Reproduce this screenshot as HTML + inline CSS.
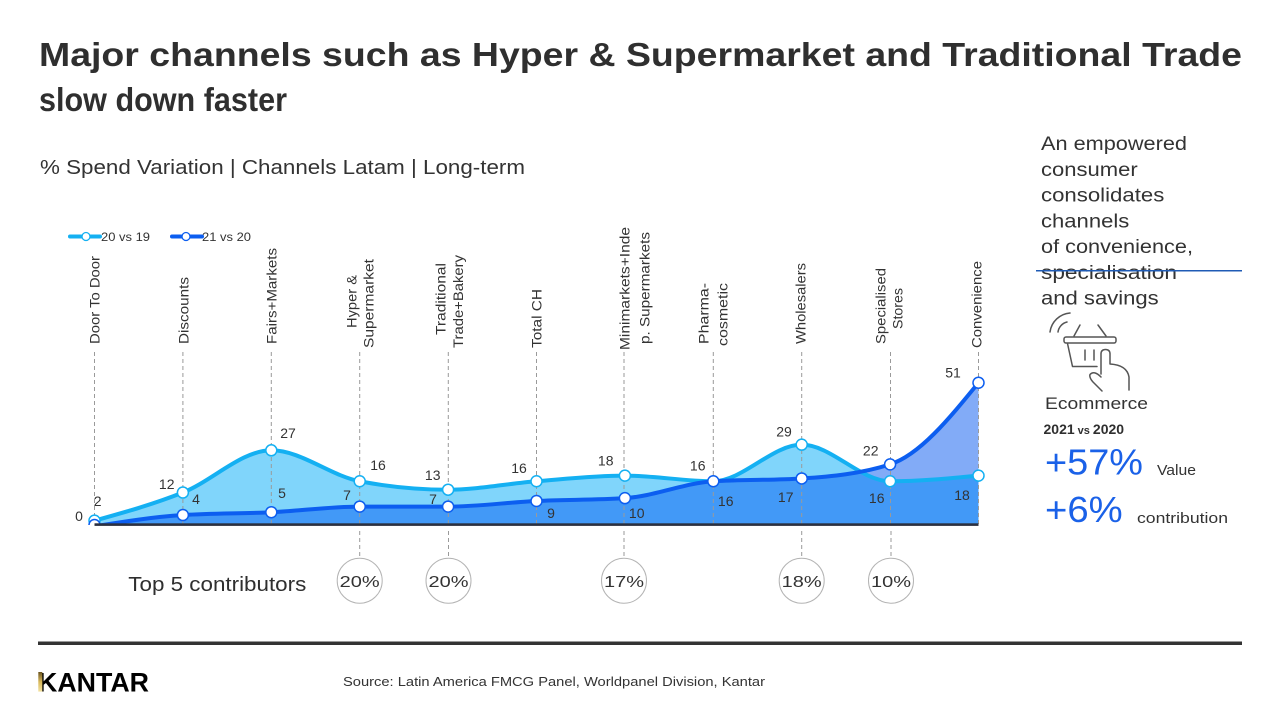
<!DOCTYPE html>
<html>
<head>
<meta charset="utf-8">
<style>
html,body{margin:0;padding:0;background:#fff;}
svg{display:block;}
text{font-family:"Liberation Sans",sans-serif;}
</style>
</head>
<body>
<svg width="1280" height="720" viewBox="0 0 1280 720" xmlns="http://www.w3.org/2000/svg">
<defs>
  <clipPath id="chartClip"><rect x="0" y="0" width="1280" height="525"/></clipPath>
  <clipPath id="areaAclip">
    <path d="M94.5,520.67 C123.97,512.46 153.43,504.25 182.9,492.52 C212.37,480.79 241.83,450.3 271.3,450.3 C300.77,450.3 330.23,475.63 359.7,481.26 C389.17,486.89 418.63,489.7 448.1,489.7 C477.57,489.7 507.03,483.6 536.5,481.26 C565.97,478.91 595.43,475.63 624.9,475.63 C654.37,475.63 683.83,481.26 713.3,481.26 C742.77,481.26 772.23,444.67 801.7,444.67 C831.17,444.67 860.63,481.26 890.1,481.26 C919.57,481.26 949.03,478.45 978.5,475.63 L978.5,530 L94.5,530 Z"/>
  </clipPath>
  <linearGradient id="gold" x1="0" y1="0" x2="0" y2="1">
    <stop offset="0" stop-color="#6b5420"/>
    <stop offset="0.5" stop-color="#d8b85a"/>
    <stop offset="1" stop-color="#f3e2a0"/>
  </linearGradient>
</defs>

<!-- Title -->
<text x="39" y="66" font-size="33" font-weight="bold" fill="#2f2f2f" textLength="1203" lengthAdjust="spacingAndGlyphs">Major channels such as Hyper &amp; Supermarket and Traditional Trade</text>
<text x="39" y="111" font-size="33" font-weight="bold" fill="#2f2f2f" textLength="248" lengthAdjust="spacingAndGlyphs">slow down faster</text>
<text x="40" y="174" font-size="20" fill="#333" textLength="485" lengthAdjust="spacingAndGlyphs">% Spend Variation | Channels Latam | Long-term</text>

<!-- Legend -->
<line x1="70" y1="236.5" x2="100" y2="236.5" stroke="#14b0f2" stroke-width="4" stroke-linecap="round"/>
<circle cx="86" cy="236.5" r="4" fill="#fff" stroke="#14b0f2" stroke-width="1.3"/>
<text x="101" y="241" font-size="12" fill="#333" textLength="49" lengthAdjust="spacingAndGlyphs">20 vs 19</text>
<line x1="172" y1="236.5" x2="202" y2="236.5" stroke="#0c5ef0" stroke-width="4" stroke-linecap="round"/>
<circle cx="186" cy="236.5" r="4" fill="#fff" stroke="#0c5ef0" stroke-width="1.3"/>
<text x="202" y="241" font-size="12" fill="#333" textLength="49" lengthAdjust="spacingAndGlyphs">21 vs 20</text>

<!-- Category labels (rotated) -->
<g font-size="13.5" fill="#333" text-anchor="middle">
  <text transform="translate(99.7,300) rotate(-90)" textLength="88" lengthAdjust="spacingAndGlyphs">Door To Door</text>
  <text transform="translate(188.7,310.5) rotate(-90)" textLength="67" lengthAdjust="spacingAndGlyphs">Discounts</text>
  <text transform="translate(276.7,296) rotate(-90)" textLength="96" lengthAdjust="spacingAndGlyphs">Fairs+Markets</text>
  <text transform="translate(356.7,301.5) rotate(-90)" textLength="53" lengthAdjust="spacingAndGlyphs">Hyper &amp;</text>
  <text transform="translate(373.7,303.5) rotate(-90)" textLength="89" lengthAdjust="spacingAndGlyphs">Supermarket</text>
  <text transform="translate(445.4,299) rotate(-90)" textLength="72" lengthAdjust="spacingAndGlyphs">Traditional</text>
  <text transform="translate(463,301.5) rotate(-90)" textLength="93" lengthAdjust="spacingAndGlyphs">Trade+Bakery</text>
  <text transform="translate(541.7,318.5) rotate(-90)" textLength="59" lengthAdjust="spacingAndGlyphs">Total CH</text>
  <text transform="translate(629.7,288.5) rotate(-90)" textLength="123" lengthAdjust="spacingAndGlyphs">Minimarkets+Inde</text>
  <text transform="translate(649.7,288) rotate(-90)" textLength="112" lengthAdjust="spacingAndGlyphs">p. Supermarkets</text>
  <text transform="translate(708.7,313.5) rotate(-90)" textLength="61" lengthAdjust="spacingAndGlyphs">Pharma-</text>
  <text transform="translate(727.7,314.5) rotate(-90)" textLength="63" lengthAdjust="spacingAndGlyphs">cosmetic</text>
  <text transform="translate(805.7,303.5) rotate(-90)" textLength="81" lengthAdjust="spacingAndGlyphs">Wholesalers</text>
  <text transform="translate(885.7,306) rotate(-90)" textLength="76" lengthAdjust="spacingAndGlyphs">Specialised</text>
  <text transform="translate(902.7,308.5) rotate(-90)" textLength="41" lengthAdjust="spacingAndGlyphs">Stores</text>
  <text transform="translate(981.7,304.5) rotate(-90)" textLength="87" lengthAdjust="spacingAndGlyphs">Convenience</text>
</g>

<!-- Chart areas -->
<g clip-path="url(#chartClip)">
  <!-- area A (20 vs 19) -->
  <path d="M94.5,520.67 C123.97,512.46 153.43,504.25 182.9,492.52 C212.37,480.79 241.83,450.3 271.3,450.3 C300.77,450.3 330.23,475.63 359.7,481.26 C389.17,486.89 418.63,489.7 448.1,489.7 C477.57,489.7 507.03,483.6 536.5,481.26 C565.97,478.91 595.43,475.63 624.9,475.63 C654.37,475.63 683.83,481.26 713.3,481.26 C742.77,481.26 772.23,444.67 801.7,444.67 C831.17,444.67 860.63,481.26 890.1,481.26 C919.57,481.26 949.03,478.45 978.5,475.63 L978.5,530 L94.5,530 Z" fill="#80d5fb"/>
  <!-- area B (21 vs 20) -->
  <path id="areaB" d="M94.5,526.3 C123.97,521.61 153.43,516.92 182.9,515.04 C212.37,513.16 241.83,513.63 271.3,512.23 C300.77,510.82 330.23,506.6 359.7,506.6 C389.17,506.6 418.63,506.6 448.1,506.6 C477.57,506.6 507.03,502.37 536.5,500.97 C565.97,499.56 595.43,500.03 624.9,498.15 C654.37,496.27 683.83,483.14 713.3,481.26 C742.77,479.38 772.23,480.32 801.7,478.45 C831.17,476.57 860.63,473.75 890.1,464.37 C919.57,454.99 949.03,418.86 978.5,382.73 L978.5,530 L94.5,530 Z" fill="#82abf7"/>
  <g clip-path="url(#areaAclip)">
    <path d="M94.5,526.3 C123.97,521.61 153.43,516.92 182.9,515.04 C212.37,513.16 241.83,513.63 271.3,512.23 C300.77,510.82 330.23,506.6 359.7,506.6 C389.17,506.6 418.63,506.6 448.1,506.6 C477.57,506.6 507.03,502.37 536.5,500.97 C565.97,499.56 595.43,500.03 624.9,498.15 C654.37,496.27 683.83,483.14 713.3,481.26 C742.77,479.38 772.23,480.32 801.7,478.45 C831.17,476.57 860.63,473.75 890.1,464.37 C919.57,454.99 949.03,418.86 978.5,382.73 L978.5,530 L94.5,530 Z" fill="#4299f7"/>
  </g>

  <!-- dashed category lines -->
  <g stroke="#9a9a9a" stroke-width="1" stroke-dasharray="4,3">
    <line x1="94.5" y1="352" x2="94.5" y2="524"/>
    <line x1="182.9" y1="352" x2="182.9" y2="524"/>
    <line x1="271.3" y1="352" x2="271.3" y2="524"/>
    <line x1="359.7" y1="352" x2="359.7" y2="524"/>
    <line x1="448.3" y1="352" x2="448.3" y2="524"/>
    <line x1="536.5" y1="352" x2="536.5" y2="524"/>
    <line x1="624" y1="352" x2="624" y2="524"/>
    <line x1="713.3" y1="352" x2="713.3" y2="524"/>
    <line x1="801.7" y1="352" x2="801.7" y2="524"/>
    <line x1="890.5" y1="352" x2="890.5" y2="524"/>
    <line x1="978.5" y1="352" x2="978.5" y2="524"/>
  </g>

  <!-- line A -->
  <path d="M94.5,520.67 C123.97,512.46 153.43,504.25 182.9,492.52 C212.37,480.79 241.83,450.3 271.3,450.3 C300.77,450.3 330.23,475.63 359.7,481.26 C389.17,486.89 418.63,489.7 448.1,489.7 C477.57,489.7 507.03,483.6 536.5,481.26 C565.97,478.91 595.43,475.63 624.9,475.63 C654.37,475.63 683.83,481.26 713.3,481.26 C742.77,481.26 772.23,444.67 801.7,444.67 C831.17,444.67 860.63,481.26 890.1,481.26 C919.57,481.26 949.03,478.45 978.5,475.63" fill="none" stroke="#14b0f2" stroke-width="4"/>
  <!-- line B -->
  <path d="M94.5,526.3 C123.97,521.61 153.43,516.92 182.9,515.04 C212.37,513.16 241.83,513.63 271.3,512.23 C300.77,510.82 330.23,506.6 359.7,506.6 C389.17,506.6 418.63,506.6 448.1,506.6 C477.57,506.6 507.03,502.37 536.5,500.97 C565.97,499.56 595.43,500.03 624.9,498.15 C654.37,496.27 683.83,483.14 713.3,481.26 C742.77,479.38 772.23,480.32 801.7,478.45 C831.17,476.57 860.63,473.75 890.1,464.37 C919.57,454.99 949.03,418.86 978.5,382.73" fill="none" stroke="#0c5ef0" stroke-width="4"/>

  <!-- markers A -->
  <g fill="#fff" stroke="#14b0f2" stroke-width="1.5">
    <circle cx="94.5" cy="520.67" r="5.5"/>
    <circle cx="182.9" cy="492.52" r="5.5"/>
    <circle cx="271.3" cy="450.3" r="5.5"/>
    <circle cx="359.7" cy="481.26" r="5.5"/>
    <circle cx="448.1" cy="489.7" r="5.5"/>
    <circle cx="536.5" cy="481.26" r="5.5"/>
    <circle cx="624.9" cy="475.63" r="5.5"/>
    <circle cx="801.7" cy="444.67" r="5.5"/>
    <circle cx="890.1" cy="481.26" r="5.5"/>
    <circle cx="978.5" cy="475.63" r="5.5"/>
  </g>
  <!-- markers B -->
  <g fill="#fff" stroke="#0c5ef0" stroke-width="1.5">
    <circle cx="94.5" cy="525" r="5.5"/>
    <circle cx="182.9" cy="515.04" r="5.5"/>
    <circle cx="271.3" cy="512.23" r="5.5"/>
    <circle cx="359.7" cy="506.6" r="5.5"/>
    <circle cx="448.1" cy="506.6" r="5.5"/>
    <circle cx="536.5" cy="500.97" r="5.5"/>
    <circle cx="624.9" cy="498.15" r="5.5"/>
    <circle cx="713.3" cy="481.26" r="5.5"/>
    <circle cx="801.7" cy="478.45" r="5.5"/>
    <circle cx="890.1" cy="464.37" r="5.5"/>
    <circle cx="978.5" cy="382.73" r="5.5"/>
  </g>
</g>

<!-- baseline -->
<rect x="94.5" y="523.3" width="884" height="2.6" fill="#2b3040"/>

<!-- value labels -->
<g font-size="14" fill="#333" text-anchor="middle">
  <text x="79" y="521">0</text>
  <text x="97.7" y="506">2</text>
  <text x="166.7" y="489">12</text>
  <text x="196" y="504">4</text>
  <text x="288" y="438">27</text>
  <text x="282" y="498">5</text>
  <text x="378" y="470">16</text>
  <text x="347" y="500">7</text>
  <text x="432.7" y="480">13</text>
  <text x="433" y="504">7</text>
  <text x="519" y="473">16</text>
  <text x="551" y="518">9</text>
  <text x="605.7" y="465.7">18</text>
  <text x="636.7" y="518">10</text>
  <text x="697.7" y="470.7">16</text>
  <text x="725.7" y="506">16</text>
  <text x="784" y="436.7">29</text>
  <text x="785.7" y="502">17</text>
  <text x="870.7" y="455.7">22</text>
  <text x="876.7" y="503">16</text>
  <text x="953" y="377.7">51</text>
  <text x="962" y="500">18</text>
</g>

<!-- Top 5 contributors -->
<g stroke="#9a9a9a" stroke-width="1" stroke-dasharray="4,3">
  <line x1="359.7" y1="531" x2="359.7" y2="558"/>
  <line x1="448.5" y1="531" x2="448.5" y2="558"/>
  <line x1="624" y1="531" x2="624" y2="558"/>
  <line x1="801.7" y1="531" x2="801.7" y2="558"/>
  <line x1="891" y1="531" x2="891" y2="558"/>
</g>
<g fill="#fff" stroke="#b4b4b4" stroke-width="1">
  <circle cx="359.7" cy="580.7" r="22.5"/>
  <circle cx="448.5" cy="580.7" r="22.5"/>
  <circle cx="624" cy="580.7" r="22.5"/>
  <circle cx="801.7" cy="580.7" r="22.5"/>
  <circle cx="891" cy="580.7" r="22.5"/>
</g>
<g font-size="16" fill="#333" text-anchor="middle">
  <text x="359.7" y="587" textLength="40" lengthAdjust="spacingAndGlyphs">20%</text>
  <text x="448.5" y="587" textLength="40" lengthAdjust="spacingAndGlyphs">20%</text>
  <text x="624" y="587" textLength="40" lengthAdjust="spacingAndGlyphs">17%</text>
  <text x="801.7" y="587" textLength="40" lengthAdjust="spacingAndGlyphs">18%</text>
  <text x="891" y="587" textLength="40" lengthAdjust="spacingAndGlyphs">10%</text>
</g>
<text x="128.3" y="591" font-size="20" fill="#2f2f2f" textLength="178" lengthAdjust="spacingAndGlyphs">Top 5 contributors</text>

<!-- Right panel -->
<g font-size="19" fill="#333">
  <text x="1041" y="150" textLength="146" lengthAdjust="spacingAndGlyphs">An empowered</text>
  <text x="1041" y="175.8" textLength="96.7" lengthAdjust="spacingAndGlyphs">consumer</text>
  <text x="1041" y="201.6" textLength="123.3" lengthAdjust="spacingAndGlyphs">consolidates</text>
  <text x="1041" y="227.4" textLength="88.3" lengthAdjust="spacingAndGlyphs">channels</text>
  <text x="1041" y="253.2" textLength="152" lengthAdjust="spacingAndGlyphs">of convenience,</text>
  <text x="1041" y="279" textLength="136" lengthAdjust="spacingAndGlyphs">specialisation</text>
  <text x="1041" y="304.3" textLength="117.7" lengthAdjust="spacingAndGlyphs">and savings</text>
</g>
<line x1="1036" y1="270.7" x2="1242" y2="270.7" stroke="#1f5bb5" stroke-width="1.5"/>

<!-- basket icon -->
<g fill="none" stroke="#555" stroke-width="1.5" stroke-linecap="round" stroke-linejoin="round">
  <path d="M1050,332 A22,22 0 0 1 1070,313"/>
  <path d="M1058,332 A12,12 0 0 1 1067,322"/>
  <path d="M1074,336 L1080,325"/>
  <path d="M1098,325 L1106,336"/>
  <rect x="1064" y="337" width="52" height="6" rx="2"/>
  <path d="M1067.5,343.5 L1072.5,366.5 L1097,366.5"/>
  <path d="M1085,350 L1085,360"/>
  <path d="M1094,350 L1094,360"/>
  <path d="M1101,374 L1101,354 Q1101,349.5 1105.5,349.5 Q1110,349.5 1110,354 L1110,364 Q1127,365 1129,377 L1129,390"/>
  <path d="M1101,377 Q1094,370 1090,374.5 Q1089,377.5 1093,382 L1102,391"/>
</g>

<text x="1045" y="409" font-size="17" fill="#333" textLength="103" lengthAdjust="spacingAndGlyphs">Ecommerce</text>
<text x="1043.5" y="434" font-size="14" font-weight="bold" fill="#2f2f2f">2021<tspan font-size="11" dx="3">vs</tspan><tspan dx="3">2020</tspan></text>
<text x="1045" y="474.5" font-size="36" fill="#1a61e8" textLength="98" lengthAdjust="spacingAndGlyphs">+57%</text>
<text x="1157" y="475" font-size="15" fill="#333" textLength="39" lengthAdjust="spacingAndGlyphs">Value</text>
<text x="1045" y="522" font-size="36" fill="#1a61e8" textLength="77.7" lengthAdjust="spacingAndGlyphs">+6%</text>
<text x="1137" y="523" font-size="15" fill="#333" textLength="91" lengthAdjust="spacingAndGlyphs">contribution</text>

<!-- Bottom rule -->
<rect x="38" y="641.5" width="1204" height="3.5" fill="#333"/>

<!-- Kantar logo -->
<text x="38" y="691.5" font-size="27" font-weight="bold" fill="#000" textLength="111" lengthAdjust="spacingAndGlyphs">KANTAR</text>
<rect x="38.3" y="672" width="4" height="19.6" fill="url(#gold)"/>

<!-- Source -->
<text x="343" y="686" font-size="13" fill="#333" textLength="422" lengthAdjust="spacingAndGlyphs">Source: Latin America FMCG Panel, Worldpanel Division, Kantar</text>
</svg>
</body>
</html>
